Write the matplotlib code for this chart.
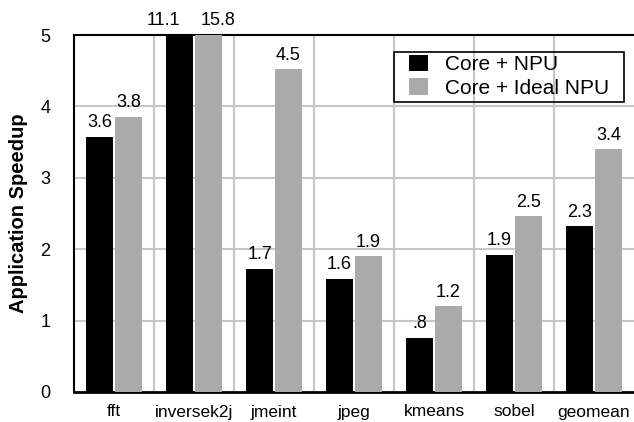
import numpy as np
import matplotlib
matplotlib.use('Agg')
import matplotlib.pyplot as plt
from matplotlib.patches import Rectangle

plt.rcParams['font.family'] = ['Liberation Sans', 'DejaVu Sans']

benchmarks = ['fft', 'inversek2j', 'jmeint', 'jpeg', 'kmeans', 'sobel', 'geomean']
npu = [3.57, 11.1, 1.72, 1.58, 0.76, 1.92, 2.32]
ideal_npu = [3.85, 15.8, 4.52, 1.90, 1.20, 2.46, 3.40]
npu_labels = ['3.6', '11.1', '1.7', '1.6', '.8', '1.9', '2.3']
ideal_labels = ['3.8', '15.8', '4.5', '1.9', '1.2', '2.5', '3.4']

YMAX = 5
BAR_W = 0.33
OFF = 0.18

fig = plt.figure(figsize=(6.34, 4.22), dpi=100)
ax = fig.add_axes([74 / 634, 30 / 422, 560 / 634, 357 / 422])

x = np.arange(len(benchmarks))
ax.bar(x - OFF, np.minimum(npu, YMAX), BAR_W, color='black', label='Core + NPU', zorder=3)
ax.bar(x + OFF, np.minimum(ideal_npu, YMAX), BAR_W, color='#aaaaaa', label='Core + Ideal NPU', zorder=3)

# value labels; labels of clipped bars sit above the frame and are pushed apart
def put_labels(xs, vals, labs, nudge):
    for xi, v, lab in zip(xs, vals, labs):
        dx = nudge if v > YMAX else 0
        ax.text(xi + dx, min(v, YMAX) + 0.08, lab, ha='center', va='bottom',
                fontsize=13, clip_on=False)

put_labels(x - OFF, npu, npu_labels, -0.2)
put_labels(x + OFF, ideal_npu, ideal_labels, 0.12)

ax.set_xlim(-0.5, len(benchmarks) - 0.5)
ax.set_ylim(0, YMAX)
ax.set_yticks(range(0, 6))
ax.set_xticks(x)
ax.set_xticklabels(benchmarks)
ax.tick_params(axis='both', length=0, labelsize=12.5)
ax.tick_params(axis='y', labelsize=13)
ax.tick_params(axis='x', pad=9)
ax.tick_params(axis='y', pad=17)

# grid: horizontal at ticks, vertical between categories
for yv in range(1, YMAX):
    ax.axhline(yv, color='#c6c6c6', lw=1.5, zorder=1)
for xb in np.arange(0.5, len(benchmarks) - 0.5, 1):
    ax.axvline(xb, color='#c6c6c6', lw=1.5, zorder=1)

ax.spines['right'].set_visible(False)
ax.spines['left'].set_linewidth(1.5)
ax.spines['top'].set_linewidth(1.5)
ax.spines['bottom'].set_linewidth(2)

ax.set_ylabel('Application Speedup', fontsize=14.5, fontweight='bold')
ax.yaxis.set_label_coords(-0.082, 0.5)

leg = ax.legend(loc='upper right', bbox_to_anchor=(0.955, 0.945), frameon=False,
                fontsize=15, handlelength=0.9, handleheight=0.85, handletextpad=0.8,
                labelspacing=0.2, borderpad=0.0, borderaxespad=0)
ax.add_patch(Rectangle((320 / 560, 290 / 357), 230 / 560, 50 / 357, transform=ax.transAxes,
                       fill=False, ec='black', lw=1.2, zorder=5))

fig.savefig('out.png', dpi=100)
